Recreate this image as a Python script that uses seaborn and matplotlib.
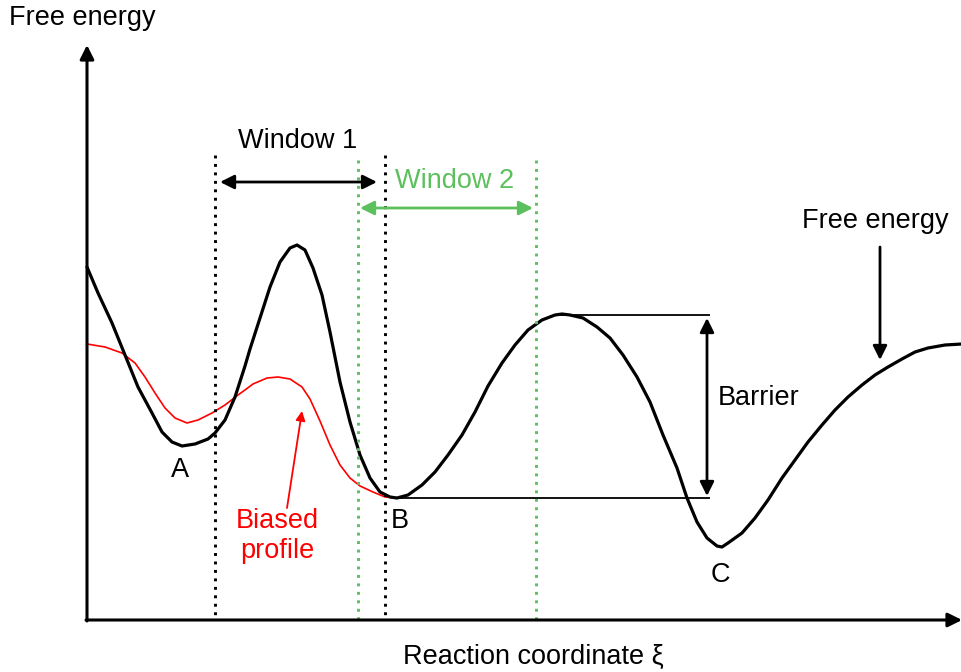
import matplotlib
matplotlib.use("Agg")
import matplotlib.pyplot as plt
import seaborn as sns
import pandas as pd

sns.set_style("white")
plt.rcParams['font.family'] = ['Liberation Sans', 'DejaVu Sans']
plt.rcParams['text.color'] = 'black'

# free energy profile (pixel units, y grows downward)
fe_x = [87, 98, 112, 125, 138, 152, 162, 172, 182, 195, 208, 215, 225, 235, 245,
        250, 260, 270, 280, 290, 297, 305, 313, 322, 330, 340, 350, 360, 370, 380, 390, 397,
        408, 422, 435, 448, 462, 475, 488, 502, 515, 528, 542, 555, 562, 570,
        583, 597, 610, 623, 637, 650, 663, 677, 687, 697, 707, 717, 722,
        728, 742, 755, 768, 782, 795, 808, 822, 835, 848, 862, 875, 888, 902, 915, 928, 945, 962]
fe_y = [267, 293, 323, 355, 387, 413, 432, 442, 446, 444, 439, 433, 420, 397, 366,
        349, 318, 287, 262, 248, 245, 250, 268, 295, 332, 382, 422, 455, 478, 492, 497, 498,
        495, 485, 472, 455, 435, 412, 386, 363, 345, 330, 320, 315, 314, 315,
        318, 327, 338, 355, 377, 402, 435, 468, 498, 522, 538, 546, 547,
        543, 533, 518, 500, 478, 460, 442, 425, 410, 397, 385, 375, 367, 359, 352, 348, 345, 344]

# biased profile
bias_x = [87, 105, 122, 135, 145, 155, 165, 175, 187, 198, 212, 225, 238, 245,
          253, 267, 278, 290, 302, 310, 320, 330, 340, 350, 360, 373, 385, 397]
bias_y = [344, 347, 353, 363, 377, 393, 408, 418, 423, 420, 413, 405, 395, 390,
          384, 378, 377, 379, 387, 399, 421, 445, 465, 478, 486, 492, 497, 498]

# window edges
win1 = [215, 385]
win2 = [358, 536]
green = "#5cc05c"

df_fe = pd.DataFrame({"x": fe_x, "y": fe_y})
df_b = pd.DataFrame({"x": bias_x, "y": bias_y})

fig = plt.figure(figsize=(9.62, 6.72), dpi=100)
ax = fig.add_axes([0, 0, 1, 1])
ax.set_xlim(0, 962)
ax.set_ylim(672, 0)
ax.axis("off")

sns.lineplot(data=df_b, x="x", y="y", ax=ax, color="red", lw=1.2, sort=False, estimator=None)
sns.lineplot(data=df_fe, x="x", y="y", ax=ax, color="black", lw=2.3, sort=False, estimator=None)
for ln in ax.lines:
    ln.set_solid_joinstyle("round")
    ln.set_solid_capstyle("round")

# axes with arrows
ax.annotate("", xy=(87, 45), xytext=(87, 621),
            arrowprops=dict(arrowstyle="-|>", color="black", lw=2.2, mutation_scale=21, shrinkA=0, shrinkB=0))
ax.annotate("", xy=(962, 620), xytext=(86, 620),
            arrowprops=dict(arrowstyle="-|>", color="black", lw=2.2, mutation_scale=21, shrinkA=0, shrinkB=0))

# window lines
ax.vlines(win1, 155, 620, colors="black", lw=2.1, linestyles=(0, (1, 1.9)))
ax.vlines(win2, 160, 620, colors=green, lw=2.1, linestyles=(0, (1, 1.9)))
ax.annotate("", xy=(220, 182), xytext=(377, 182),
            arrowprops=dict(arrowstyle="<|-|>", color="black", lw=2, mutation_scale=21, shrinkA=0, shrinkB=0))
ax.annotate("", xy=(360, 208), xytext=(533, 208),
            arrowprops=dict(arrowstyle="<|-|>", color=green, lw=2, mutation_scale=21, shrinkA=0, shrinkB=0))

# barrier
ax.hlines([315, 498], [560, 397], 710, colors="black", lw=1.3)
ax.annotate("", xy=(707, 318), xytext=(707, 496),
            arrowprops=dict(arrowstyle="<|-|>", color="black", lw=2, mutation_scale=21, shrinkA=0, shrinkB=0))

# free energy pointer
ax.annotate("", xy=(880, 360), xytext=(880, 247),
            arrowprops=dict(arrowstyle="-|>", color="black", lw=2, mutation_scale=21, shrinkA=0, shrinkB=0))
# biased pointer
ax.annotate("", xy=(302, 411), xytext=(287, 508),
            arrowprops=dict(arrowstyle="-|>", color="red", lw=1.3, mutation_scale=14, shrinkA=0, shrinkB=0))

fs = 19.5
ax.text(9, 18, "Free energy", fontsize=fs, ha="left", va="center")
ax.text(533, 657, "Reaction coordinate ξ", fontsize=fs, ha="center", va="center")
ax.text(298, 141, "Window 1", fontsize=fs, ha="center", va="center")
ax.text(455, 181, "Window 2", fontsize=fs, ha="center", va="center", color=green)
ax.text(718, 398, "Barrier", fontsize=fs, ha="left", va="center")
ax.text(875, 221, "Free energy", fontsize=fs, ha="center", va="center")
ax.text(180, 470, "A", fontsize=fs, ha="center", va="center")
ax.text(400, 521, "B", fontsize=fs, ha="center", va="center")
ax.text(720, 575, "C", fontsize=fs, ha="center", va="center")
ax.text(277, 536, "Biased\nprofile", fontsize=fs, ha="center", va="center", color="red", linespacing=1.2)

fig.savefig("out.png", dpi=100)
